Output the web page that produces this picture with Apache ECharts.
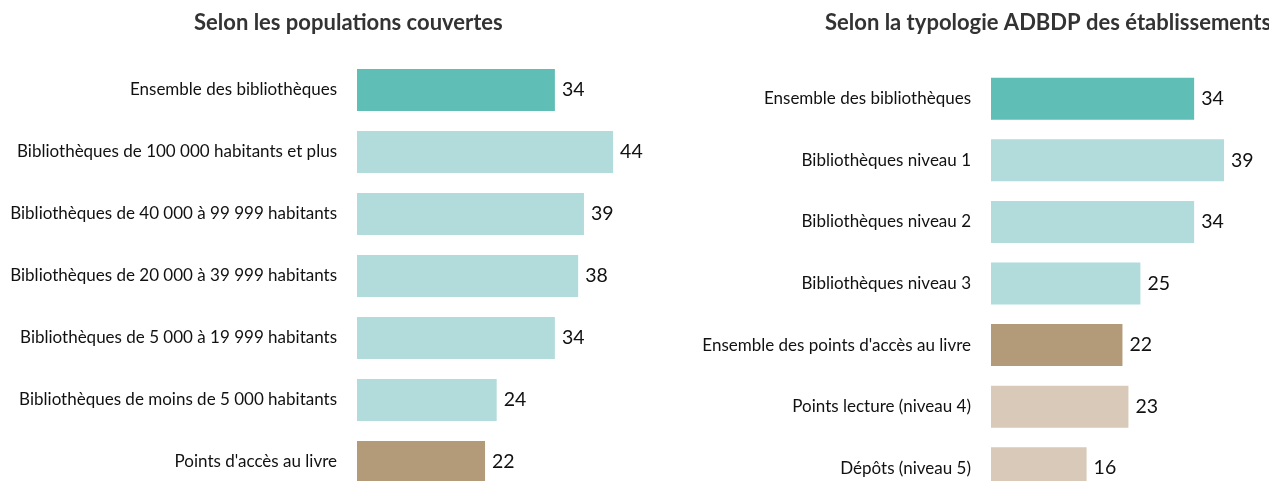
<!DOCTYPE html>
<html>
<head>
<meta charset="utf-8">
<script src="https://cdn.jsdelivr.net/npm/echarts@6/dist/echarts.min.js"></script>
<style>
  html, body { margin: 0; padding: 0; background: #fff; }
  #chart { width: 1269px; height: 481px; }
</style>
</head>
<body>
<div id="chart"></div>
<script>
// Left panel: by population served
const popCategories = [
    'Ensemble des bibliothèques',
    'Bibliothèques de 100 000 habitants et plus',
    'Bibliothèques de 40 000 à 99 999 habitants',
    'Bibliothèques de 20 000 à 39 999 habitants',
    'Bibliothèques de 5 000 à 19 999 habitants',
    'Bibliothèques de moins de 5 000 habitants',
    "Points d'accès au livre"
]
const popValues = [34, 44, 39, 38, 34, 24, 22]
const popGroups = ['total', 'lib', 'lib', 'lib', 'lib', 'lib', 'pointsTotal']

// Right panel: by ADBDP typology
const typoCategories = [
    'Ensemble des bibliothèques',
    'Bibliothèques niveau 1',
    'Bibliothèques niveau 2',
    'Bibliothèques niveau 3',
    "Ensemble des points d'accès au livre",
    'Points lecture (niveau 4)',
    'Dépôts (niveau 5)'
]
const typoValues = [34, 39, 34, 25, 22, 23, 16]
const typoGroups = ['total', 'lib', 'lib', 'lib', 'pointsTotal', 'points', 'points']

const groupColors = {
    total: '#5fbeb5',
    lib: '#b2dcdb',
    pointsTotal: '#b39a78',
    points: '#d9c9b8'
}

const font = 'Lato, "Open Sans", sans-serif'

function toData(values, groups) {
    return values.map((v, i) => ({
        value: v,
        itemStyle: { color: groupColors[groups[i]] }
    }))
}

function catAxis(idx, cats) {
    return {
        type: 'category',
        gridIndex: idx,
        inverse: true,
        data: cats,
        axisLine: { show: false },
        axisTick: { show: false },
        axisLabel: {
            margin: 20,
            fontFamily: font,
            fontSize: 17,
            color: '#111'
        }
    }
}

function valAxis(idx, max) {
    return {
        type: 'value',
        gridIndex: idx,
        min: 0,
        max: max,
        show: false,
        splitLine: { show: false }
    }
}

function barSeries(idx, values, groups) {
    return {
        type: 'bar',
        xAxisIndex: idx,
        yAxisIndex: idx,
        barWidth: 42,
        data: toData(values, groups),
        label: {
            show: true,
            position: 'right',
            distance: 7,
            fontFamily: font,
            fontSize: 19.5,
            color: '#111'
        },
        silent: true
    }
}

const chart = echarts.init(document.getElementById('chart'))

chart.setOption({
    animation: false,
    title: [
        {
            text: 'Selon les populations couvertes',
            left: 189,
            top: 7,
            textStyle: { fontFamily: font, fontSize: 22, fontWeight: 'bold', color: '#333' }
        },
        {
            text: 'Selon la typologie ADBDP des établissements',
            left: 820,
            top: 7,
            textStyle: { fontFamily: font, fontSize: 22, fontWeight: 'bold', color: '#333' }
        }
    ],
    grid: [
        { left: 357, width: 291, top: 59, height: 434, outerBoundsMode: 'none' },
        { left: 991, width: 239, top: 68, height: 431, outerBoundsMode: 'none' }
    ],
    xAxis: [valAxis(0, 50), valAxis(1, 40)],
    yAxis: [catAxis(0, popCategories), catAxis(1, typoCategories)],
    series: [
        barSeries(0, popValues, popGroups),
        barSeries(1, typoValues, typoGroups)
    ]
})
</script>
</body>
</html>
